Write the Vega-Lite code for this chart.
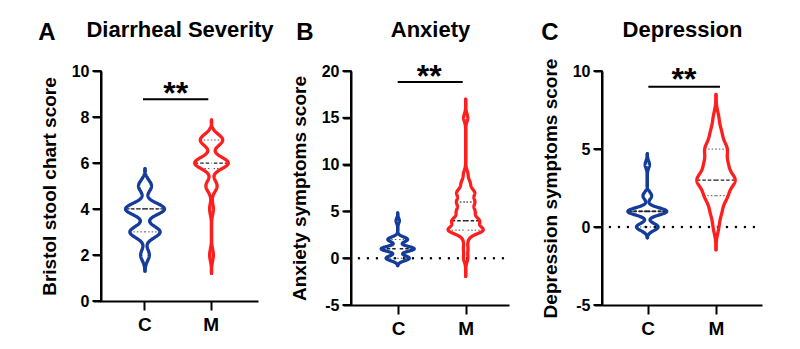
{
  "$schema": "https://vega.github.io/schema/vega-lite/v6.json",
  "background": "white",
  "autosize": {"type": "pad"},
  "padding": {"left": 38, "top": 18, "right": 5, "bottom": 5},
  "config": {
    "font": "Liberation Sans",
    "view": {"stroke": null},
    "axis": {"grid": false, "domainColor": "black", "domainWidth": 2, "tickColor": "black", "tickWidth": 2, "labelColor": "black", "titleColor": "black", "labelFontWeight": "bold", "titleFontWeight": "bold", "labelFont": "Liberation Sans", "titleFont": "Liberation Sans"},
    "title": {"font": "Liberation Sans", "fontWeight": "bold", "color": "black", "fontSize": 24, "anchor": "start", "frame": "bounds", "offset": -27}
  },
  "datasets": {
    "tests": [
      {"panel": "A", "comparison": "C vs M", "significance": "**"},
      {"panel": "B", "comparison": "C vs M", "significance": "**"},
      {"panel": "C", "comparison": "C vs M", "significance": "**"}
    ],
    "yticks": [
      {"panel": "A", "tick": 0}, {"panel": "A", "tick": 2}, {"panel": "A", "tick": 4}, {"panel": "A", "tick": 6}, {"panel": "A", "tick": 8}, {"panel": "A", "tick": 10},
      {"panel": "B", "tick": -5}, {"panel": "B", "tick": 0}, {"panel": "B", "tick": 5}, {"panel": "B", "tick": 10}, {"panel": "B", "tick": 15}, {"panel": "B", "tick": 20},
      {"panel": "C", "tick": -5}, {"panel": "C", "tick": 0}, {"panel": "C", "tick": 5}, {"panel": "C", "tick": 10}
    ],
    "obs": [
      {"panel":"A","group":"C","score":2},{"panel":"A","group":"C","score":2},
      {"panel":"A","group":"C","score":3},{"panel":"A","group":"C","score":3},{"panel":"A","group":"C","score":3},{"panel":"A","group":"C","score":3},{"panel":"A","group":"C","score":3},{"panel":"A","group":"C","score":3},{"panel":"A","group":"C","score":3},
      {"panel":"A","group":"C","score":4},{"panel":"A","group":"C","score":4},{"panel":"A","group":"C","score":4},{"panel":"A","group":"C","score":4},{"panel":"A","group":"C","score":4},{"panel":"A","group":"C","score":4},{"panel":"A","group":"C","score":4},{"panel":"A","group":"C","score":4},{"panel":"A","group":"C","score":4},
      {"panel":"A","group":"C","score":5},{"panel":"A","group":"C","score":5},{"panel":"A","group":"C","score":5},
      {"panel":"A","group":"M","score":2},{"panel":"A","group":"M","score":4},
      {"panel":"A","group":"M","score":5},{"panel":"A","group":"M","score":5},{"panel":"A","group":"M","score":5},
      {"panel":"A","group":"M","score":6},{"panel":"A","group":"M","score":6},{"panel":"A","group":"M","score":6},{"panel":"A","group":"M","score":6},{"panel":"A","group":"M","score":6},{"panel":"A","group":"M","score":6},{"panel":"A","group":"M","score":6},{"panel":"A","group":"M","score":6},{"panel":"A","group":"M","score":6},
      {"panel":"A","group":"M","score":7},{"panel":"A","group":"M","score":7},{"panel":"A","group":"M","score":7},{"panel":"A","group":"M","score":7},{"panel":"A","group":"M","score":7},{"panel":"A","group":"M","score":7},
      {"panel":"B","group":"C","score":0},{"panel":"B","group":"C","score":0},{"panel":"B","group":"C","score":0},{"panel":"B","group":"C","score":0},{"panel":"B","group":"C","score":0},{"panel":"B","group":"C","score":0},{"panel":"B","group":"C","score":0},
      {"panel":"B","group":"C","score":1},{"panel":"B","group":"C","score":1},{"panel":"B","group":"C","score":1},{"panel":"B","group":"C","score":1},{"panel":"B","group":"C","score":1},{"panel":"B","group":"C","score":1},{"panel":"B","group":"C","score":1},{"panel":"B","group":"C","score":1},{"panel":"B","group":"C","score":1},{"panel":"B","group":"C","score":1},
      {"panel":"B","group":"C","score":2},{"panel":"B","group":"C","score":2},{"panel":"B","group":"C","score":2},{"panel":"B","group":"C","score":2},{"panel":"B","group":"C","score":2},{"panel":"B","group":"C","score":2},
      {"panel":"B","group":"C","score":4},
      {"panel":"B","group":"M","score":0},{"panel":"B","group":"M","score":1},{"panel":"B","group":"M","score":2},
      {"panel":"B","group":"M","score":3},{"panel":"B","group":"M","score":3},{"panel":"B","group":"M","score":3},{"panel":"B","group":"M","score":3},{"panel":"B","group":"M","score":3},{"panel":"B","group":"M","score":3},{"panel":"B","group":"M","score":3},{"panel":"B","group":"M","score":3},
      {"panel":"B","group":"M","score":4},{"panel":"B","group":"M","score":4},{"panel":"B","group":"M","score":4},{"panel":"B","group":"M","score":4},{"panel":"B","group":"M","score":4},{"panel":"B","group":"M","score":4},
      {"panel":"B","group":"M","score":5},{"panel":"B","group":"M","score":5},{"panel":"B","group":"M","score":5},{"panel":"B","group":"M","score":5},
      {"panel":"B","group":"M","score":6},{"panel":"B","group":"M","score":6},{"panel":"B","group":"M","score":6},{"panel":"B","group":"M","score":6},
      {"panel":"B","group":"M","score":7},{"panel":"B","group":"M","score":7},{"panel":"B","group":"M","score":7},{"panel":"B","group":"M","score":7},
      {"panel":"B","group":"M","score":8},{"panel":"B","group":"M","score":8},
      {"panel":"B","group":"M","score":9},{"panel":"B","group":"M","score":15},
      {"panel":"C","group":"C","score":0},{"panel":"C","group":"C","score":0},{"panel":"C","group":"C","score":0},{"panel":"C","group":"C","score":0},{"panel":"C","group":"C","score":0},
      {"panel":"C","group":"C","score":1},{"panel":"C","group":"C","score":1},{"panel":"C","group":"C","score":1},{"panel":"C","group":"C","score":1},{"panel":"C","group":"C","score":1},{"panel":"C","group":"C","score":1},{"panel":"C","group":"C","score":1},{"panel":"C","group":"C","score":1},{"panel":"C","group":"C","score":1},
      {"panel":"C","group":"C","score":2},{"panel":"C","group":"C","score":2},
      {"panel":"C","group":"C","score":4},
      {"panel":"C","group":"M","score":0},
      {"panel":"C","group":"M","score":1},{"panel":"C","group":"M","score":1},
      {"panel":"C","group":"M","score":2},{"panel":"C","group":"M","score":2},{"panel":"C","group":"M","score":2},{"panel":"C","group":"M","score":2},
      {"panel":"C","group":"M","score":3},{"panel":"C","group":"M","score":3},{"panel":"C","group":"M","score":3},{"panel":"C","group":"M","score":3},{"panel":"C","group":"M","score":3},{"panel":"C","group":"M","score":3},{"panel":"C","group":"M","score":3},
      {"panel":"C","group":"M","score":4},{"panel":"C","group":"M","score":4},{"panel":"C","group":"M","score":4},{"panel":"C","group":"M","score":4},
      {"panel":"C","group":"M","score":5},{"panel":"C","group":"M","score":5},{"panel":"C","group":"M","score":5},{"panel":"C","group":"M","score":5},
      {"panel":"C","group":"M","score":6},{"panel":"C","group":"M","score":6},
      {"panel":"C","group":"M","score":7}
    ]
  },
  "hconcat": [
    {
      "width": 157, "height": 230,
      "title": {"text": "A", "dx": -2},
      "resolve": {"scale": {"x": "independent", "y": "independent"}, "axis": {"x": "independent", "y": "independent"}},
      "layer": [
        {
          "data": {"name": "tests"},
          "transform": [{"filter": "datum.panel == 'A'"}],
          "mark": {"type": "rect", "color": "black", "opacity": 1},
          "encoding": {
            "x": {"datum": 0.335, "type": "quantitative", "scale": {"domain": [0.35, 2.71], "nice": false, "zero": false}, "axis": null},
            "x2": {"datum": 0.365},
            "y": {"datum": -0.05, "type": "quantitative", "scale": {"domain": [0, 10], "nice": false, "zero": false}, "axis": null},
            "y2": {"datum": 10}
          }
        },
        {
          "data": {"name": "yticks"},
          "transform": [{"filter": "datum.panel == 'A'"}],
          "mark": {"type": "tick", "color": "black", "orient": "horizontal", "thickness": 2, "size": 9, "opacity": 1},
          "encoding": {
            "x": {"datum": 0.2899, "type": "quantitative", "scale": {"domain": [0.35, 2.71], "nice": false, "zero": false}, "axis": null},
            "y": {"field": "tick", "type": "quantitative", "scale": {"domain": [0, 10], "nice": false, "zero": false}, "axis": null}
          }
        },
        {
          "data": {"name": "tests"},
          "transform": [{"filter": "datum.panel == 'A'"}],
          "mark": {"type": "rule", "color": "black", "strokeWidth": 2},
          "encoding": {
            "x": {"datum": 0.981, "type": "quantitative", "scale": {"domain": [0.35, 2.71], "nice": false, "zero": false},
                  "axis": {"values": [1, 2], "labelExpr": "datum.value == 1 ? 'C' : 'M'", "title": null, "labelFontSize": 19, "tickSize": 9, "labelPadding": 5}},
            "x2": {"datum": 1.963},
            "y": {"datum": 8.77, "type": "quantitative", "scale": {"domain": [0, 10], "nice": false, "zero": false},
                  "axis": {"orient": "left", "values": [0, 2, 4, 6, 8, 10], "title": "Bristol stool chart score", "domain": true, "ticks": true, "labelFontSize": 16, "titleFontSize": 19, "tickSize": 8, "labelPadding": 4, "titlePadding": 12}}
          }
        },
        {
          "data": {"name": "tests"},
          "transform": [{"filter": "datum.panel == 'A'"}],
          "mark": {"type": "text", "fontSize": 32, "fontWeight": "bold", "baseline": "middle", "align": "center", "color": "black"},
          "encoding": {
            "text": {"field": "significance"},
            "x": {"datum": 1.473, "type": "quantitative", "scale": {"domain": [0.35, 2.71], "nice": false, "zero": false},
                  "axis": {"orient": "top", "domain": false, "ticks": false, "labels": false, "title": "Diarrheal Severity", "titleFontSize": 22, "titlePadding": 30}},
            "y": {"datum": 9.02, "type": "quantitative", "scale": {"domain": [0, 10], "nice": false, "zero": false}, "axis": null}
          }
        },
        {
          "data": {"name": "obs"},
          "transform": [
            {"filter": "datum.panel == 'A' && datum.group == 'C'"},
            {"joinaggregate": [{"op": "q1", "field": "score", "as": "q1"}, {"op": "median", "field": "score", "as": "med"}, {"op": "q3", "field": "score", "as": "q3"}]},
            {"density": "score", "groupby": ["q1", "med", "q3"], "bandwidth": 0.25, "extent": [1.3, 5.75], "steps": 240}
          ],
          "encoding": {
            "y": {"field": "value", "type": "quantitative", "scale": {"domain": [0, 10], "nice": false, "zero": false}, "axis": null},
            "x": {"field": "density", "type": "quantitative", "scale": {"domain": [-1.544, 3.965], "nice": false, "zero": false}, "axis": null}
          },
          "layer": [
            {"transform": [{"filter": "abs(datum.value - datum.q1) < 0.0101 || abs(datum.value - datum.q3) < 0.0101"}], "mark": {"type": "rule", "color": "#555555", "strokeWidth": 1, "strokeDash": [1.5, 2]}, "encoding": {"x2": {"datum": 0}}},
            {"transform": [{"filter": "abs(datum.value - datum.med) < 0.0101"}], "mark": {"type": "rule", "color": "#222222", "strokeWidth": 1.3, "strokeDash": [3.5, 2]}, "encoding": {"x2": {"datum": 0}}},
            {"mark": {"type": "line", "color": "#163c9a", "strokeWidth": 3.3, "strokeCap": "round", "strokeJoin": "round"}, "encoding": {"order": {"field": "value", "type": "quantitative"}}}
          ]
        },
        {
          "data": {"name": "obs"},
          "transform": [
            {"filter": "datum.panel == 'A' && datum.group == 'C'"},
            {"joinaggregate": [{"op": "q1", "field": "score", "as": "q1"}, {"op": "median", "field": "score", "as": "med"}, {"op": "q3", "field": "score", "as": "q3"}]},
            {"density": "score", "groupby": ["q1", "med", "q3"], "bandwidth": 0.25, "extent": [1.3, 5.75], "steps": 240}
          ],
          "encoding": {
            "y": {"field": "value", "type": "quantitative", "scale": {"domain": [0, 10], "nice": false, "zero": false}, "axis": null},
            "x": {"field": "density", "type": "quantitative", "scale": {"domain": [-3.965, 1.544], "reverse": true, "nice": false, "zero": false}, "axis": null}
          },
          "layer": [
            {"transform": [{"filter": "abs(datum.value - datum.q1) < 0.0101 || abs(datum.value - datum.q3) < 0.0101"}], "mark": {"type": "rule", "color": "#555555", "strokeWidth": 1, "strokeDash": [1.5, 2]}, "encoding": {"x2": {"datum": 0}}},
            {"transform": [{"filter": "abs(datum.value - datum.med) < 0.0101"}], "mark": {"type": "rule", "color": "#222222", "strokeWidth": 1.3, "strokeDash": [3.5, 2]}, "encoding": {"x2": {"datum": 0}}},
            {"mark": {"type": "line", "color": "#163c9a", "strokeWidth": 3.3, "strokeCap": "round", "strokeJoin": "round"}, "encoding": {"order": {"field": "value", "type": "quantitative"}}}
          ]
        },
        {
          "data": {"name": "obs"},
          "transform": [
            {"filter": "datum.panel == 'A' && datum.group == 'M'"},
            {"joinaggregate": [{"op": "q1", "field": "score", "as": "q1"}, {"op": "median", "field": "score", "as": "med"}, {"op": "q3", "field": "score", "as": "q3"}]},
            {"density": "score", "groupby": ["q1", "med", "q3"], "bandwidth": 0.25, "extent": [1.2, 7.87], "steps": 360}
          ],
          "encoding": {
            "y": {"field": "value", "type": "quantitative", "scale": {"domain": [0, 10], "nice": false, "zero": false}, "axis": null},
            "x": {"field": "density", "type": "quantitative", "scale": {"domain": [-4.722, 1.987], "nice": false, "zero": false}, "axis": null}
          },
          "layer": [
            {"transform": [{"filter": "abs(datum.value - datum.q1) < 0.0101 || abs(datum.value - datum.q3) < 0.0101"}], "mark": {"type": "rule", "color": "#555555", "strokeWidth": 1, "strokeDash": [1.5, 2]}, "encoding": {"x2": {"datum": 0}}},
            {"transform": [{"filter": "abs(datum.value - datum.med) < 0.0101"}], "mark": {"type": "rule", "color": "#222222", "strokeWidth": 1.3, "strokeDash": [3.5, 2]}, "encoding": {"x2": {"datum": 0}}},
            {"mark": {"type": "line", "color": "#ff1e1e", "strokeWidth": 3.3, "strokeCap": "round", "strokeJoin": "round"}, "encoding": {"order": {"field": "value", "type": "quantitative"}}}
          ]
        },
        {
          "data": {"name": "obs"},
          "transform": [
            {"filter": "datum.panel == 'A' && datum.group == 'M'"},
            {"joinaggregate": [{"op": "q1", "field": "score", "as": "q1"}, {"op": "median", "field": "score", "as": "med"}, {"op": "q3", "field": "score", "as": "q3"}]},
            {"density": "score", "groupby": ["q1", "med", "q3"], "bandwidth": 0.25, "extent": [1.2, 7.87], "steps": 360}
          ],
          "encoding": {
            "y": {"field": "value", "type": "quantitative", "scale": {"domain": [0, 10], "nice": false, "zero": false}, "axis": null},
            "x": {"field": "density", "type": "quantitative", "scale": {"domain": [-1.987, 4.722], "reverse": true, "nice": false, "zero": false}, "axis": null}
          },
          "layer": [
            {"transform": [{"filter": "abs(datum.value - datum.q1) < 0.0101 || abs(datum.value - datum.q3) < 0.0101"}], "mark": {"type": "rule", "color": "#555555", "strokeWidth": 1, "strokeDash": [1.5, 2]}, "encoding": {"x2": {"datum": 0}}},
            {"transform": [{"filter": "abs(datum.value - datum.med) < 0.0101"}], "mark": {"type": "rule", "color": "#222222", "strokeWidth": 1.3, "strokeDash": [3.5, 2]}, "encoding": {"x2": {"datum": 0}}},
            {"mark": {"type": "line", "color": "#ff1e1e", "strokeWidth": 3.3, "strokeCap": "round", "strokeJoin": "round"}, "encoding": {"order": {"field": "value", "type": "quantitative"}}}
          ]
        }
      ]
    },
    {
      "width": 158, "height": 234,
      "title": {"text": "B", "dx": 6},
      "resolve": {"scale": {"x": "independent", "y": "independent"}, "axis": {"x": "independent", "y": "independent"}},
      "layer": [
        {
          "data": {"name": "tests"},
          "transform": [{"filter": "datum.panel == 'B'"}],
          "mark": {"type": "rect", "color": "black", "opacity": 1},
          "encoding": {
            "x": {"datum": 0.2852, "type": "quantitative", "scale": {"domain": [0.30, 2.645], "nice": false, "zero": false}, "axis": null},
            "x2": {"datum": 0.3148},
            "y": {"datum": -5.1, "type": "quantitative", "scale": {"domain": [-5, 20], "nice": false, "zero": false}, "axis": null},
            "y2": {"datum": 20}
          }
        },
        {
          "data": {"name": "yticks"},
          "transform": [{"filter": "datum.panel == 'B'"}],
          "mark": {"type": "tick", "color": "black", "orient": "horizontal", "thickness": 2, "size": 9, "opacity": 1},
          "encoding": {
            "x": {"datum": 0.2406, "type": "quantitative", "scale": {"domain": [0.30, 2.645], "nice": false, "zero": false}, "axis": null},
            "y": {"field": "tick", "type": "quantitative", "scale": {"domain": [-5, 20], "nice": false, "zero": false}, "axis": null}
          }
        },
        {
          "data": {"name": "tests"},
          "transform": [{"filter": "datum.panel == 'B'"}],
          "mark": {"type": "rule", "color": "black", "strokeWidth": 2.4, "strokeCap": "round", "strokeDash": [0.1, 8.9], "strokeDashOffset": 3},
          "encoding": {
            "y": {"datum": 0, "type": "quantitative", "scale": {"domain": [-5, 20], "nice": false, "zero": false}, "axis": null}
          }
        },
        {
          "data": {"name": "tests"},
          "transform": [{"filter": "datum.panel == 'B'"}],
          "mark": {"type": "rule", "color": "black", "strokeWidth": 2},
          "encoding": {
            "x": {"datum": 0.993, "type": "quantitative", "scale": {"domain": [0.30, 2.645], "nice": false, "zero": false},
                  "axis": {"values": [1, 2], "labelExpr": "datum.value == 1 ? 'C' : 'M'", "title": null, "labelFontSize": 19, "tickSize": 9, "labelPadding": 5}},
            "x2": {"datum": 1.958},
            "y": {"datum": 18.82, "type": "quantitative", "scale": {"domain": [-5, 20], "nice": false, "zero": false},
                  "axis": {"orient": "left", "values": [-5, 0, 5, 10, 15, 20], "labelExpr": "datum.value < 0 ? '-' + abs(datum.value) : '' + datum.value", "title": "Anxiety symptoms score", "domain": true, "ticks": true, "labelFontSize": 16, "titleFontSize": 19, "tickSize": 8, "labelPadding": 4, "titlePadding": 12}}
          }
        },
        {
          "data": {"name": "tests"},
          "transform": [{"filter": "datum.panel == 'B'"}],
          "mark": {"type": "text", "fontSize": 32, "fontWeight": "bold", "baseline": "middle", "align": "center", "color": "black"},
          "encoding": {
            "text": {"field": "significance"},
            "x": {"datum": 1.462, "type": "quantitative", "scale": {"domain": [0.30, 2.645], "nice": false, "zero": false},
                  "axis": {"orient": "top", "domain": false, "ticks": false, "labels": false, "title": "Anxiety", "titleFontSize": 22, "titlePadding": 30}},
            "y": {"datum": 19.41, "type": "quantitative", "scale": {"domain": [-5, 20], "nice": false, "zero": false}, "axis": null}
          }
        },
        {
          "data": {"name": "obs"},
          "transform": [
            {"filter": "datum.panel == 'B' && datum.group == 'C'"},
            {"joinaggregate": [{"op": "q1", "field": "score", "as": "q1"}, {"op": "median", "field": "score", "as": "med"}, {"op": "q3", "field": "score", "as": "q3"}]},
            {"density": "score", "groupby": ["q1", "med", "q3"], "bandwidth": 0.27, "extent": [-0.79, 4.83], "steps": 300}
          ],
          "encoding": {
            "y": {"field": "value", "type": "quantitative", "scale": {"domain": [-5, 20], "nice": false, "zero": false}, "axis": null},
            "x": {"field": "density", "type": "quantitative", "scale": {"domain": [-1.743, 4.153], "nice": false, "zero": false}, "axis": null}
          },
          "layer": [
            {"transform": [{"filter": "abs(datum.value - datum.q1) < 0.0101 || abs(datum.value - datum.q3) < 0.0101"}], "mark": {"type": "rule", "color": "#555555", "strokeWidth": 1, "strokeDash": [1.5, 2]}, "encoding": {"x2": {"datum": 0}}},
            {"transform": [{"filter": "abs(datum.value - datum.med) < 0.0101"}], "mark": {"type": "rule", "color": "#222222", "strokeWidth": 1.3, "strokeDash": [3.5, 2]}, "encoding": {"x2": {"datum": 0}}},
            {"mark": {"type": "line", "color": "#163c9a", "strokeWidth": 3.3, "strokeCap": "round", "strokeJoin": "round"}, "encoding": {"order": {"field": "value", "type": "quantitative"}}}
          ]
        },
        {
          "data": {"name": "obs"},
          "transform": [
            {"filter": "datum.panel == 'B' && datum.group == 'C'"},
            {"joinaggregate": [{"op": "q1", "field": "score", "as": "q1"}, {"op": "median", "field": "score", "as": "med"}, {"op": "q3", "field": "score", "as": "q3"}]},
            {"density": "score", "groupby": ["q1", "med", "q3"], "bandwidth": 0.27, "extent": [-0.79, 4.83], "steps": 300}
          ],
          "encoding": {
            "y": {"field": "value", "type": "quantitative", "scale": {"domain": [-5, 20], "nice": false, "zero": false}, "axis": null},
            "x": {"field": "density", "type": "quantitative", "scale": {"domain": [-4.153, 1.743], "reverse": true, "nice": false, "zero": false}, "axis": null}
          },
          "layer": [
            {"transform": [{"filter": "abs(datum.value - datum.q1) < 0.0101 || abs(datum.value - datum.q3) < 0.0101"}], "mark": {"type": "rule", "color": "#555555", "strokeWidth": 1, "strokeDash": [1.5, 2]}, "encoding": {"x2": {"datum": 0}}},
            {"transform": [{"filter": "abs(datum.value - datum.med) < 0.0101"}], "mark": {"type": "rule", "color": "#222222", "strokeWidth": 1.3, "strokeDash": [3.5, 2]}, "encoding": {"x2": {"datum": 0}}},
            {"mark": {"type": "line", "color": "#163c9a", "strokeWidth": 3.3, "strokeCap": "round", "strokeJoin": "round"}, "encoding": {"order": {"field": "value", "type": "quantitative"}}}
          ]
        },
        {
          "data": {"name": "obs"},
          "transform": [
            {"filter": "datum.panel == 'B' && datum.group == 'M'"},
            {"joinaggregate": [{"op": "q1", "field": "score", "as": "q1"}, {"op": "median", "field": "score", "as": "med"}, {"op": "q3", "field": "score", "as": "q3"}]},
            {"density": "score", "groupby": ["q1", "med", "q3"], "bandwidth": 0.42, "extent": [-1.95, 17.0], "steps": 1000}
          ],
          "encoding": {
            "y": {"field": "value", "type": "quantitative", "scale": {"domain": [-5, 20], "nice": false, "zero": false}, "axis": null},
            "x": {"field": "density", "type": "quantitative", "scale": {"domain": [-1.586, 0.599], "nice": false, "zero": false}, "axis": null}
          },
          "layer": [
            {"transform": [{"filter": "abs(datum.value - datum.q1) < 0.0101 || abs(datum.value - datum.q3) < 0.0101"}], "mark": {"type": "rule", "color": "#555555", "strokeWidth": 1, "strokeDash": [1.5, 2]}, "encoding": {"x2": {"datum": 0}}},
            {"transform": [{"filter": "abs(datum.value - datum.med) < 0.0101"}], "mark": {"type": "rule", "color": "#222222", "strokeWidth": 1.3, "strokeDash": [3.5, 2]}, "encoding": {"x2": {"datum": 0}}},
            {"mark": {"type": "line", "color": "#ff1e1e", "strokeWidth": 3.3, "strokeCap": "round", "strokeJoin": "round"}, "encoding": {"order": {"field": "value", "type": "quantitative"}}}
          ]
        },
        {
          "data": {"name": "obs"},
          "transform": [
            {"filter": "datum.panel == 'B' && datum.group == 'M'"},
            {"joinaggregate": [{"op": "q1", "field": "score", "as": "q1"}, {"op": "median", "field": "score", "as": "med"}, {"op": "q3", "field": "score", "as": "q3"}]},
            {"density": "score", "groupby": ["q1", "med", "q3"], "bandwidth": 0.42, "extent": [-1.95, 17.0], "steps": 1000}
          ],
          "encoding": {
            "y": {"field": "value", "type": "quantitative", "scale": {"domain": [-5, 20], "nice": false, "zero": false}, "axis": null},
            "x": {"field": "density", "type": "quantitative", "scale": {"domain": [-0.599, 1.586], "reverse": true, "nice": false, "zero": false}, "axis": null}
          },
          "layer": [
            {"transform": [{"filter": "abs(datum.value - datum.q1) < 0.0101 || abs(datum.value - datum.q3) < 0.0101"}], "mark": {"type": "rule", "color": "#555555", "strokeWidth": 1, "strokeDash": [1.5, 2]}, "encoding": {"x2": {"datum": 0}}},
            {"transform": [{"filter": "abs(datum.value - datum.med) < 0.0101"}], "mark": {"type": "rule", "color": "#222222", "strokeWidth": 1.3, "strokeDash": [3.5, 2]}, "encoding": {"x2": {"datum": 0}}},
            {"mark": {"type": "line", "color": "#ff1e1e", "strokeWidth": 3.3, "strokeCap": "round", "strokeJoin": "round"}, "encoding": {"order": {"field": "value", "type": "quantitative"}}}
          ]
        }
      ]
    },
    {
      "width": 160, "height": 234,
      "title": {"text": "C"},
      "resolve": {"scale": {"x": "independent", "y": "independent"}, "axis": {"x": "independent", "y": "independent"}},
      "layer": [
        {
          "data": {"name": "tests"},
          "transform": [{"filter": "datum.panel == 'C'"}],
          "mark": {"type": "rect", "color": "black", "opacity": 1},
          "encoding": {
            "x": {"datum": 0.3153, "type": "quantitative", "scale": {"domain": [0.33, 2.675], "nice": false, "zero": false}, "axis": null},
            "x2": {"datum": 0.3447},
            "y": {"datum": -5.06, "type": "quantitative", "scale": {"domain": [-5, 10], "nice": false, "zero": false}, "axis": null},
            "y2": {"datum": 10}
          }
        },
        {
          "data": {"name": "yticks"},
          "transform": [{"filter": "datum.panel == 'C'"}],
          "mark": {"type": "tick", "color": "black", "orient": "horizontal", "thickness": 2, "size": 9, "opacity": 1},
          "encoding": {
            "x": {"datum": 0.2713, "type": "quantitative", "scale": {"domain": [0.33, 2.675], "nice": false, "zero": false}, "axis": null},
            "y": {"field": "tick", "type": "quantitative", "scale": {"domain": [-5, 10], "nice": false, "zero": false}, "axis": null}
          }
        },
        {
          "data": {"name": "tests"},
          "transform": [{"filter": "datum.panel == 'C'"}],
          "mark": {"type": "rule", "color": "black", "strokeWidth": 2.4, "strokeCap": "round", "strokeDash": [0.1, 8.9], "strokeDashOffset": 1},
          "encoding": {
            "y": {"datum": 0, "type": "quantitative", "scale": {"domain": [-5, 10], "nice": false, "zero": false}, "axis": null}
          }
        },
        {
          "data": {"name": "tests"},
          "transform": [{"filter": "datum.panel == 'C'"}],
          "mark": {"type": "rule", "color": "black", "strokeWidth": 2},
          "encoding": {
            "x": {"datum": 1.009, "type": "quantitative", "scale": {"domain": [0.33, 2.675], "nice": false, "zero": false},
                  "axis": {"values": [1, 2], "labelExpr": "datum.value == 1 ? 'C' : 'M'", "title": null, "labelFontSize": 19, "tickSize": 9, "labelPadding": 5}},
            "x2": {"datum": 2.059},
            "y": {"datum": 8.99, "type": "quantitative", "scale": {"domain": [-5, 10], "nice": false, "zero": false},
                  "axis": {"orient": "left", "values": [-5, 0, 5, 10], "labelExpr": "datum.value < 0 ? '-' + abs(datum.value) : '' + datum.value", "title": "Depression symptoms score", "domain": true, "ticks": true, "labelFontSize": 16, "titleFontSize": 19, "tickSize": 8, "labelPadding": 4, "titlePadding": 12}}
          }
        },
        {
          "data": {"name": "tests"},
          "transform": [{"filter": "datum.panel == 'C'"}],
          "mark": {"type": "text", "fontSize": 32, "fontWeight": "bold", "baseline": "middle", "align": "center", "color": "black"},
          "encoding": {
            "text": {"field": "significance"},
            "x": {"datum": 1.532, "type": "quantitative", "scale": {"domain": [0.33, 2.675], "nice": false, "zero": false},
                  "axis": {"orient": "top", "domain": false, "ticks": false, "labels": false, "title": "Depression", "titleFontSize": 22, "titlePadding": 30}},
            "y": {"datum": 9.42, "type": "quantitative", "scale": {"domain": [-5, 10], "nice": false, "zero": false}, "axis": null}
          }
        },
        {
          "data": {"name": "obs"},
          "transform": [
            {"filter": "datum.panel == 'C' && datum.group == 'C'"},
            {"joinaggregate": [{"op": "q1", "field": "score", "as": "q1"}, {"op": "median", "field": "score", "as": "med"}, {"op": "q3", "field": "score", "as": "q3"}]},
            {"density": "score", "groupby": ["q1", "med", "q3"], "bandwidth": 0.23, "extent": [-0.7, 4.7], "steps": 300}
          ],
          "encoding": {
            "y": {"field": "value", "type": "quantitative", "scale": {"domain": [-5, 10], "nice": false, "zero": false}, "axis": null},
            "x": {"field": "density", "type": "quantitative", "scale": {"domain": [-2.137, 5.41], "nice": false, "zero": false}, "axis": null}
          },
          "layer": [
            {"transform": [{"filter": "abs(datum.value - datum.q1) < 0.0101 || abs(datum.value - datum.q3) < 0.0101"}], "mark": {"type": "rule", "color": "#555555", "strokeWidth": 1, "strokeDash": [1.5, 2]}, "encoding": {"x2": {"datum": 0}}},
            {"transform": [{"filter": "abs(datum.value - datum.med) < 0.0101"}], "mark": {"type": "rule", "color": "#222222", "strokeWidth": 1.3, "strokeDash": [3.5, 2]}, "encoding": {"x2": {"datum": 0}}},
            {"mark": {"type": "line", "color": "#163c9a", "strokeWidth": 3.3, "strokeCap": "round", "strokeJoin": "round"}, "encoding": {"order": {"field": "value", "type": "quantitative"}}}
          ]
        },
        {
          "data": {"name": "obs"},
          "transform": [
            {"filter": "datum.panel == 'C' && datum.group == 'C'"},
            {"joinaggregate": [{"op": "q1", "field": "score", "as": "q1"}, {"op": "median", "field": "score", "as": "med"}, {"op": "q3", "field": "score", "as": "q3"}]},
            {"density": "score", "groupby": ["q1", "med", "q3"], "bandwidth": 0.23, "extent": [-0.7, 4.7], "steps": 300}
          ],
          "encoding": {
            "y": {"field": "value", "type": "quantitative", "scale": {"domain": [-5, 10], "nice": false, "zero": false}, "axis": null},
            "x": {"field": "density", "type": "quantitative", "scale": {"domain": [-5.41, 2.137], "reverse": true, "nice": false, "zero": false}, "axis": null}
          },
          "layer": [
            {"transform": [{"filter": "abs(datum.value - datum.q1) < 0.0101 || abs(datum.value - datum.q3) < 0.0101"}], "mark": {"type": "rule", "color": "#555555", "strokeWidth": 1, "strokeDash": [1.5, 2]}, "encoding": {"x2": {"datum": 0}}},
            {"transform": [{"filter": "abs(datum.value - datum.med) < 0.0101"}], "mark": {"type": "rule", "color": "#222222", "strokeWidth": 1.3, "strokeDash": [3.5, 2]}, "encoding": {"x2": {"datum": 0}}},
            {"mark": {"type": "line", "color": "#163c9a", "strokeWidth": 3.3, "strokeCap": "round", "strokeJoin": "round"}, "encoding": {"order": {"field": "value", "type": "quantitative"}}}
          ]
        },
        {
          "data": {"name": "obs"},
          "transform": [
            {"filter": "datum.panel == 'C' && datum.group == 'M'"},
            {"joinaggregate": [{"op": "q1", "field": "score", "as": "q1"}, {"op": "median", "field": "score", "as": "med"}, {"op": "q3", "field": "score", "as": "q3"}]},
            {"density": "score", "groupby": ["q1", "med", "q3"], "bandwidth": 0.47, "extent": [-1.46, 8.5], "steps": 520}
          ],
          "encoding": {
            "y": {"field": "value", "type": "quantitative", "scale": {"domain": [-5, 10], "nice": false, "zero": false}, "axis": null},
            "x": {"field": "density", "type": "quantitative", "scale": {"domain": [-1.579, 0.637], "nice": false, "zero": false}, "axis": null}
          },
          "layer": [
            {"transform": [{"filter": "abs(datum.value - datum.q1) < 0.0101 || abs(datum.value - datum.q3) < 0.0101"}], "mark": {"type": "rule", "color": "#555555", "strokeWidth": 1, "strokeDash": [1.5, 2]}, "encoding": {"x2": {"datum": 0}}},
            {"transform": [{"filter": "abs(datum.value - datum.med) < 0.0101"}], "mark": {"type": "rule", "color": "#222222", "strokeWidth": 1.3, "strokeDash": [3.5, 2]}, "encoding": {"x2": {"datum": 0}}},
            {"mark": {"type": "line", "color": "#ff1e1e", "strokeWidth": 3.3, "strokeCap": "round", "strokeJoin": "round"}, "encoding": {"order": {"field": "value", "type": "quantitative"}}}
          ]
        },
        {
          "data": {"name": "obs"},
          "transform": [
            {"filter": "datum.panel == 'C' && datum.group == 'M'"},
            {"joinaggregate": [{"op": "q1", "field": "score", "as": "q1"}, {"op": "median", "field": "score", "as": "med"}, {"op": "q3", "field": "score", "as": "q3"}]},
            {"density": "score", "groupby": ["q1", "med", "q3"], "bandwidth": 0.47, "extent": [-1.46, 8.5], "steps": 520}
          ],
          "encoding": {
            "y": {"field": "value", "type": "quantitative", "scale": {"domain": [-5, 10], "nice": false, "zero": false}, "axis": null},
            "x": {"field": "density", "type": "quantitative", "scale": {"domain": [-0.637, 1.579], "reverse": true, "nice": false, "zero": false}, "axis": null}
          },
          "layer": [
            {"transform": [{"filter": "abs(datum.value - datum.q1) < 0.0101 || abs(datum.value - datum.q3) < 0.0101"}], "mark": {"type": "rule", "color": "#555555", "strokeWidth": 1, "strokeDash": [1.5, 2]}, "encoding": {"x2": {"datum": 0}}},
            {"transform": [{"filter": "abs(datum.value - datum.med) < 0.0101"}], "mark": {"type": "rule", "color": "#222222", "strokeWidth": 1.3, "strokeDash": [3.5, 2]}, "encoding": {"x2": {"datum": 0}}},
            {"mark": {"type": "line", "color": "#ff1e1e", "strokeWidth": 3.3, "strokeCap": "round", "strokeJoin": "round"}, "encoding": {"order": {"field": "value", "type": "quantitative"}}}
          ]
        }
      ]
    }
  ],
  "spacing": 93,
  "bounds": "flush"
}
